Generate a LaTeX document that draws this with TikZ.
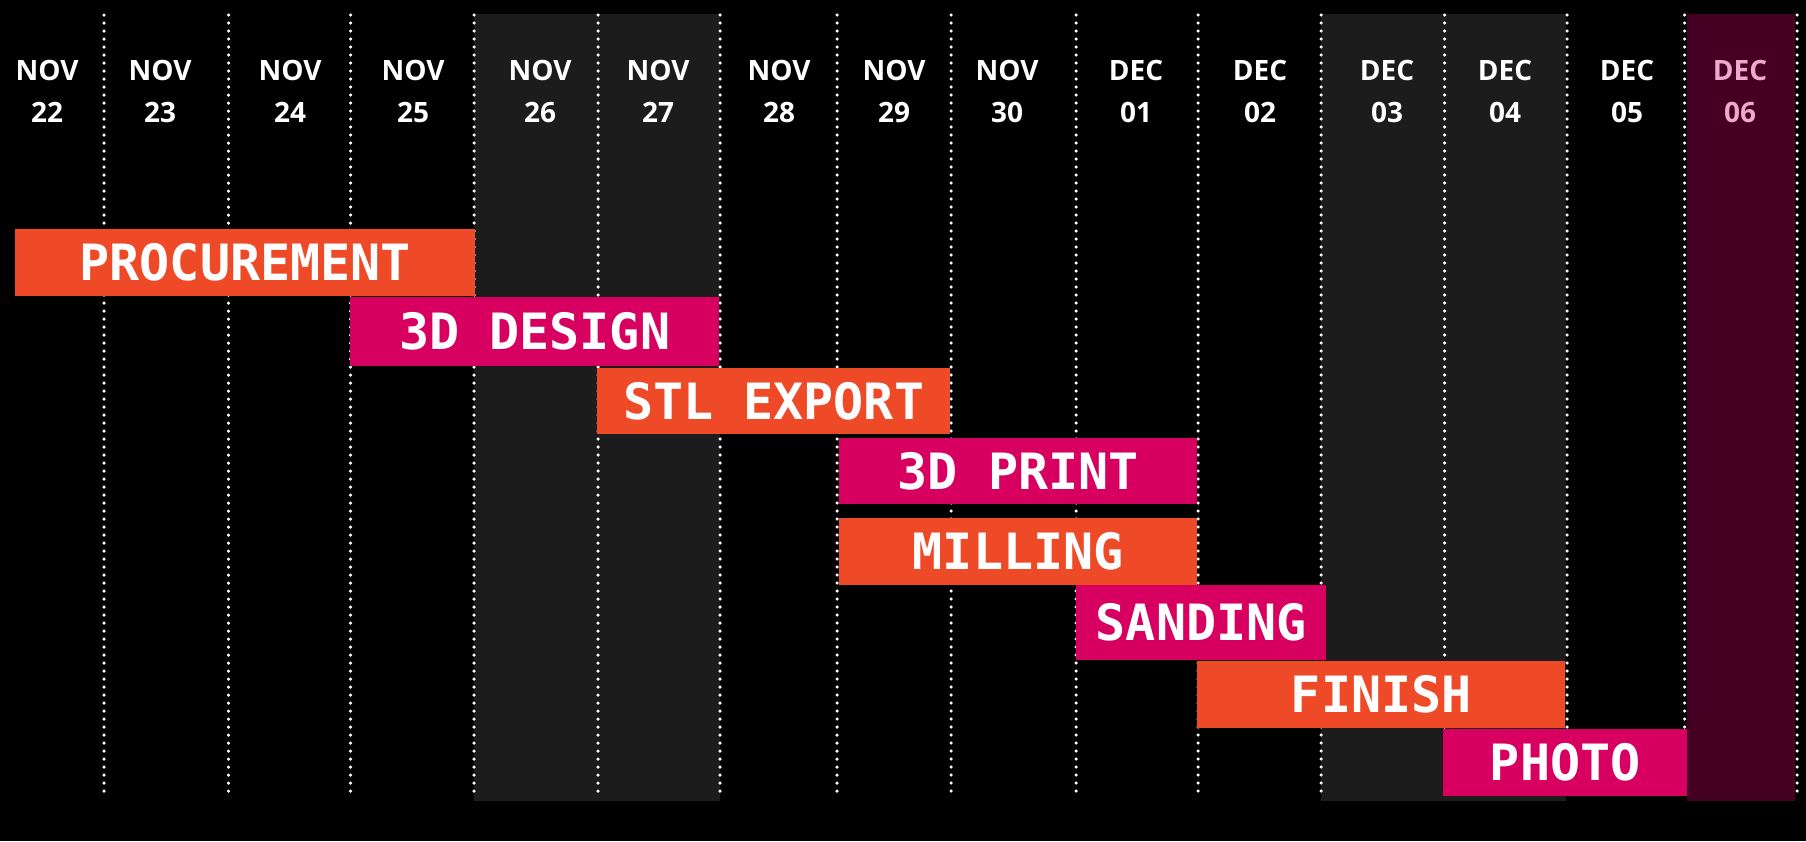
\documentclass[tikz,border=0pt]{standalone}
\usepackage{fontspec}
\setmainfont{Open Sans}
\newfontfamily\barfont{DejaVu Sans Mono}
\usepackage{xcolor}
\usepackage{tikz}
\usetikzlibrary{positioning}

\definecolor{barorange}{HTML}{EE4A28}
\definecolor{barmagenta}{HTML}{D70060}
\definecolor{weekendgray}{HTML}{1C1C1C}
\definecolor{deadlinered}{HTML}{440022}
\definecolor{deadlinepink}{HTML}{F0A8CF}

\begin{document}
\begin{tikzpicture}[
  x=1pt, y=-1pt,
  day/.style={align=center, text=white, inner sep=0pt, font=\fontsize{28}{42}\selectfont\bfseries},
  task/.style={anchor=north west, inner sep=0pt, text=white, text height=36pt, text depth=0pt,
    font=\barfont\bfseries\fontsize{50}{50}\selectfont},
  dayline/.style={white, line width=3.5pt, line cap=round, dash pattern=on 0pt off 8pt}
]
% background
\fill[black] (0,0) rectangle (1806,841);
\useasboundingbox (0,0) rectangle (1806,841);
% weekends and deadline
\fill[weekendgray] (474,14) rectangle (720,801);
\fill[weekendgray] (1321,14) rectangle (1566,801);
\fill[deadlinered] (1687,14) rectangle (1795,801);
% day separators
\foreach \x in {104,228.5,350.5,474,598,720,837,951,1076,1198,1321,1444.5,1567,1684.5,1797}
  \draw[dayline] (\x,15) -- (\x,798);
% dates
\node[day] (nov22) at (47,91) {NOV\\22};
\node[day] (nov23) at (160,91) {NOV\\23};
\node[day] (nov24) at (290,91) {NOV\\24};
\node[day] (nov25) at (413,91) {NOV\\25};
\node[day] (nov26) at (540,91) {NOV\\26};
\node[day] (nov27) at (658,91) {NOV\\27};
\node[day] (nov28) at (779,91) {NOV\\28};
\node[day] (nov29) at (894,91) {NOV\\29};
\node[day] (nov30) at (1007,91) {NOV\\30};
\node[day] (dec01) at (1136,91) {DEC\\01};
\node[day] (dec02) at (1260,91) {DEC\\02};
\node[day] (dec03) at (1387,91) {DEC\\03};
\node[day] (dec04) at (1505,91) {DEC\\04};
\node[day] (dec05) at (1627,91) {DEC\\05};
\node[day, text=deadlinepink] (dec06) at (1740,91) {DEC\\06};
% tasks
\node[task, fill=barorange, minimum width=460pt, minimum height=67pt] (procurement) at (15,229) {PROCUREMENT};
\node[task, fill=barmagenta, minimum width=369pt, minimum height=69pt] (design) at (350,297) {3D DESIGN};
\node[task, fill=barorange, minimum width=353pt, minimum height=66pt] (export) at (597,368) {STL EXPORT};
\node[task, fill=barmagenta, minimum width=358pt, minimum height=66pt] (print) at (839,438) {3D PRINT};
\node[task, fill=barorange, minimum width=358pt, minimum height=67pt] (milling) at (839,518) {MILLING};
\node[task, fill=barmagenta, minimum width=250pt, minimum height=75pt] (sanding) at (1076,585) {SANDING};
\node[task, fill=barorange, minimum width=368pt, minimum height=67pt] (finish) at (1197,661) {FINISH};
\node[task, fill=barmagenta, minimum width=244pt, minimum height=67pt] (photo) at (1443,729) {PHOTO};
\end{tikzpicture}
\end{document}
